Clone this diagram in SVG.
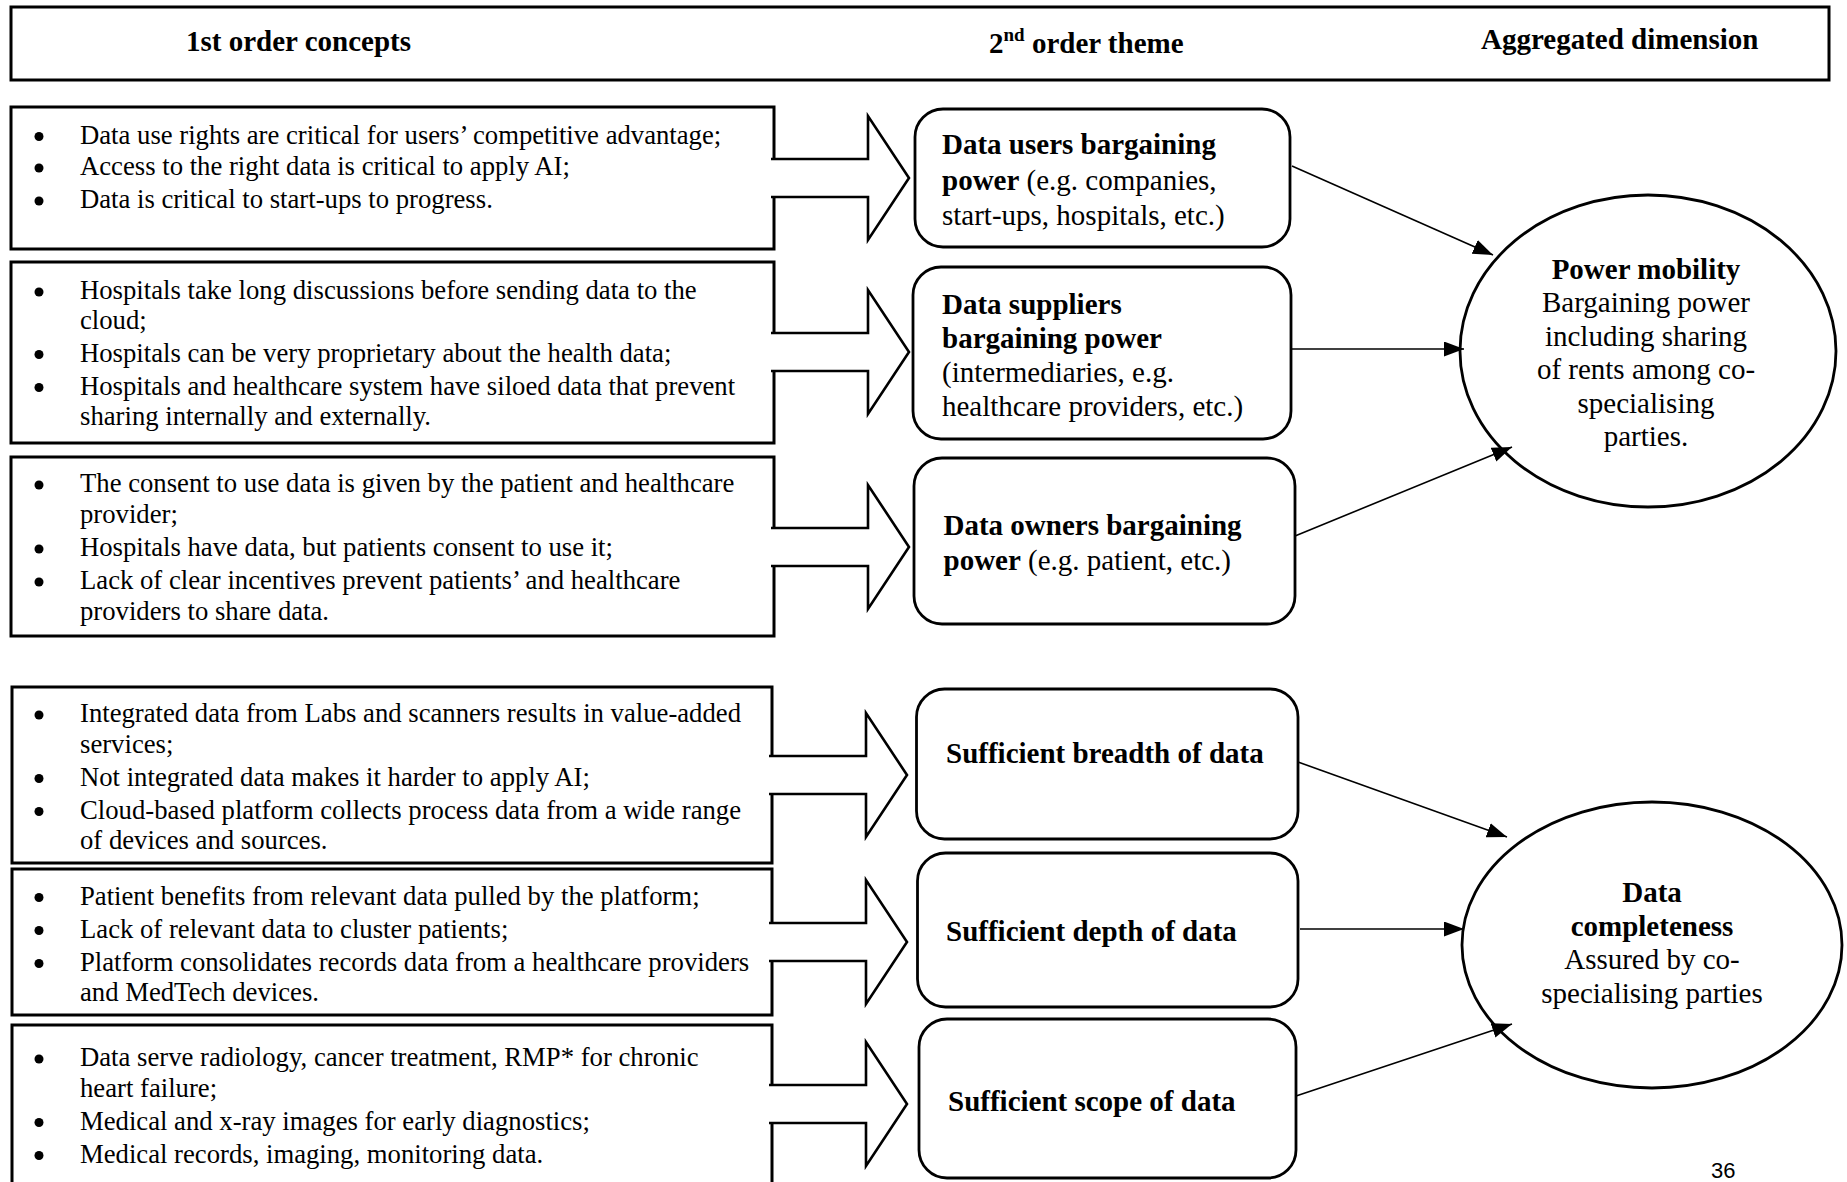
<svg xmlns="http://www.w3.org/2000/svg" width="1847" height="1182" viewBox="0 0 1847 1182">
<style>
text{font-family:"Liberation Serif","Times New Roman",serif;fill:#000}
.hd{font-size:29px;font-weight:bold}
.lt{font-size:26.7px}
.rt{font-size:29px}
.b{font-weight:bold}
.box{fill:#fff;stroke:#000;stroke-width:3}
.rbox{fill:#fff;stroke:#000;stroke-width:2.8}
.blk{fill:#fff;stroke:#000;stroke-width:2.6;stroke-linejoin:miter}
.ell{fill:#fff;stroke:#000;stroke-width:2.8}
.con{stroke:#000;stroke-width:1.6;fill:none}
.bul{fill:#000}
.ct{text-anchor:middle}
</style>
<defs>
<marker id="ah" markerUnits="userSpaceOnUse" markerWidth="22" markerHeight="16" refX="20" refY="7.5" orient="auto">
<path d="M0,0 L20,7.5 L0,15 z" fill="#000"/>
</marker>
</defs>
<g id="header">
<rect x="11" y="7" width="1818" height="73" class="box"/>
<text class="hd" x="186" y="51">1st order concepts</text>
<text class="hd" x="989" y="53">2<tspan font-size="19" dy="-12">nd</tspan><tspan dy="12"> order theme</tspan></text>
<text class="hd" x="1481" y="49">Aggregated dimension</text>
</g>
<g id="concepts1">
<rect x="11" y="107" width="763" height="142" class="box"/>
<path class="blk" d="M771,159 H868 V116 L909,178 L868,240 V197 H771"/>
<circle class="bul" cx="39" cy="136.5" r="4.5"/><text class="lt" x="80" y="143.5">Data use rights are critical for users’ competitive advantage;</text>
<circle class="bul" cx="39" cy="168" r="4.5"/><text class="lt" x="80" y="175">Access to the right data is critical to apply AI;</text>
<circle class="bul" cx="39" cy="201" r="4.5"/><text class="lt" x="80" y="208">Data is critical to start-ups to progress.</text>
</g>
<g id="concepts2">
<rect x="11" y="262" width="763" height="181" class="box"/>
<path class="blk" d="M771,333 H868 V290 L909,352 L868,414 V371 H771"/>
<circle class="bul" cx="39" cy="292" r="4.5"/><text class="lt" x="80" y="299">Hospitals take long discussions before sending data to the</text>
<text class="lt" x="80" y="328.5">cloud;</text>
<circle class="bul" cx="39" cy="354.5" r="4.5"/><text class="lt" x="80" y="361.5">Hospitals can be very proprietary about the health data;</text>
<circle class="bul" cx="39" cy="387.5" r="4.5"/><text class="lt" x="80" y="394.5">Hospitals and healthcare system have siloed data that prevent</text>
<text class="lt" x="80" y="425">sharing internally and externally.</text>
</g>
<g id="concepts3">
<rect x="11" y="457" width="763" height="179" class="box"/>
<path class="blk" d="M771,528 H868 V485 L909,547 L868,609 V566 H771"/>
<circle class="bul" cx="39" cy="485" r="4.5"/><text class="lt" x="80" y="492">The consent to use data is given by the patient and healthcare</text>
<text class="lt" x="80" y="523">provider;</text>
<circle class="bul" cx="39" cy="549" r="4.5"/><text class="lt" x="80" y="556">Hospitals have data, but patients consent to use it;</text>
<circle class="bul" cx="39" cy="582" r="4.5"/><text class="lt" x="80" y="589">Lack of clear incentives prevent patients’ and healthcare</text>
<text class="lt" x="80" y="619.5">providers to share data.</text>
</g>
<g id="concepts4">
<rect x="12" y="687" width="760" height="176" class="box"/>
<path class="blk" d="M769,756 H866 V713 L907,775 L866,837 V794 H769"/>
<circle class="bul" cx="39" cy="715" r="4.5"/><text class="lt" x="80" y="722">Integrated data from Labs and scanners results in value-added</text>
<text class="lt" x="80" y="752.5">services;</text>
<circle class="bul" cx="39" cy="778.5" r="4.5"/><text class="lt" x="80" y="785.5">Not integrated data makes it harder to apply AI;</text>
<circle class="bul" cx="39" cy="811.5" r="4.5"/><text class="lt" x="80" y="818.5">Cloud-based platform collects process data from a wide range</text>
<text class="lt" x="80" y="849">of devices and sources.</text>
</g>
<g id="concepts5">
<rect x="12" y="869" width="760" height="146" class="box"/>
<path class="blk" d="M769,923 H866 V880 L907,942 L866,1004 V961 H769"/>
<circle class="bul" cx="39" cy="897.5" r="4.5"/><text class="lt" x="80" y="904.5">Patient benefits from relevant data pulled by the platform;</text>
<circle class="bul" cx="39" cy="930.5" r="4.5"/><text class="lt" x="80" y="937.5">Lack of relevant data to cluster patients;</text>
<circle class="bul" cx="39" cy="963.5" r="4.5"/><text class="lt" x="80" y="970.5">Platform consolidates records data from a healthcare providers</text>
<text class="lt" x="80" y="1001">and MedTech devices.</text>
</g>
<g id="concepts6">
<rect x="12" y="1025" width="760" height="190" class="box"/>
<path class="blk" d="M769,1085 H866 V1042 L907,1104 L866,1166 V1123 H769"/>
<circle class="bul" cx="39" cy="1059" r="4.5"/><text class="lt" x="80" y="1066">Data serve radiology, cancer treatment, RMP* for chronic</text>
<text class="lt" x="80" y="1096.5">heart failure;</text>
<circle class="bul" cx="39" cy="1122.5" r="4.5"/><text class="lt" x="80" y="1129.5">Medical and x-ray images for early diagnostics;</text>
<circle class="bul" cx="39" cy="1155.5" r="4.5"/><text class="lt" x="80" y="1162.5">Medical records, imaging, monitoring data.</text>
</g>
<g id="theme-users">
<rect x="915" y="109" width="375" height="138" rx="28" class="rbox"/>
<text class="rt" x="942" y="154"><tspan class="b">Data users bargaining</tspan></text>
<text class="rt" x="942" y="189.5"><tspan class="b">power</tspan> (e.g. companies,</text>
<text class="rt" x="942" y="225">start-ups, hospitals, etc.)</text>
</g>
<g id="theme-suppliers">
<rect x="913" y="267" width="378" height="172" rx="28" class="rbox"/>
<text class="rt b" x="942" y="314">Data suppliers</text>
<text class="rt b" x="942" y="348">bargaining power</text>
<text class="rt" x="942" y="382">(intermediaries, e.g.</text>
<text class="rt" x="942" y="416">healthcare providers, etc.)</text>
</g>
<g id="theme-owners">
<rect x="914" y="458" width="381" height="166" rx="28" class="rbox"/>
<text class="rt b" x="943.5" y="535">Data owners bargaining</text>
<text class="rt" x="943.5" y="570"><tspan class="b">power</tspan> (e.g. patient, etc.)</text>
</g>
<g id="theme-breadth">
<rect x="916.5" y="689" width="381.5" height="150" rx="28" class="rbox"/>
<text class="rt b" x="946" y="763">Sufficient breadth of data</text>
</g>
<g id="theme-depth">
<rect x="917.5" y="853" width="380.5" height="154" rx="28" class="rbox"/>
<text class="rt b" x="946" y="941">Sufficient depth of data</text>
</g>
<g id="theme-scope">
<rect x="919" y="1019" width="377" height="159" rx="28" class="rbox"/>
<text class="rt b" x="948" y="1110.5">Sufficient scope of data</text>
</g>
<g id="dim-power">
<ellipse cx="1648" cy="351" rx="188" ry="156" class="ell"/>
<text class="rt b ct" x="1646" y="279">Power mobility</text>
<text class="rt ct" x="1646" y="312">Bargaining power</text>
<text class="rt ct" x="1646" y="345.5">including sharing</text>
<text class="rt ct" x="1646" y="379">of rents among co-</text>
<text class="rt ct" x="1646" y="412.5">specialising</text>
<text class="rt ct" x="1646" y="446">parties.</text>
</g>
<g id="dim-data">
<ellipse cx="1652" cy="945" rx="190" ry="143" class="ell"/>
<text class="rt b ct" x="1652" y="902">Data</text>
<text class="rt b ct" x="1652" y="936">completeness</text>
<text class="rt ct" x="1652" y="969">Assured by co-</text>
<text class="rt ct" x="1652" y="1003">specialising parties</text>
</g>
<g id="connectors">
<line class="con" x1="1292" y1="166" x2="1493" y2="255" marker-end="url(#ah)"/>
<line class="con" x1="1291" y1="349" x2="1464" y2="349" marker-end="url(#ah)"/>
<line class="con" x1="1295" y1="536" x2="1512" y2="447" marker-end="url(#ah)"/>
<line class="con" x1="1298" y1="762" x2="1507" y2="837" marker-end="url(#ah)"/>
<line class="con" x1="1300" y1="929" x2="1464" y2="929" marker-end="url(#ah)"/>
<line class="con" x1="1296" y1="1096" x2="1512" y2="1024" marker-end="url(#ah)"/>
</g>
<text x="1711" y="1178" style="font-family:'Liberation Sans',Arial,sans-serif;font-size:22px">36</text>
</svg>
